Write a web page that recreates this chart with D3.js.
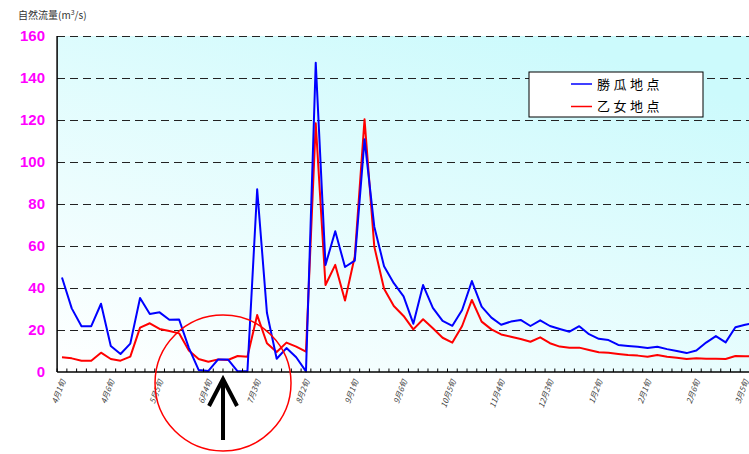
<!DOCTYPE html>
<html><head><meta charset="utf-8">
<script src="https://cdn.jsdelivr.net/npm/d3@7"></script>
<style>
html,body{margin:0;padding:0;background:#fff;overflow:hidden}
svg{display:block}
</style></head>
<body>
<svg id="chart" width="749" height="454"></svg>
<script>
const months = [4,5,6,7,8,9,10,11,12,1,2,3];
const categories = [];
months.forEach(m => { for (let j = 1; j <= 6; j++) categories.push(m + "月" + j + "旬"); });

const seriesNames = ["勝瓜地点", "乙女地点"];
const katsuriValues = [45,30.3,21.8,21.8,32.5,12.4,8.6,13.5,35.2,27.6,28.4,24.9,25,11.5,1,0.5,6,6,0.3,0.3,
  87,28.2,6.3,11.4,7,0.3,147.3,51,67,50,53,110.8,69.2,50.4,42.3,36,23,41.4,30.5,24.3,
  22,29.5,43.3,31.1,25.9,22.5,24,24.8,21.9,24.6,21.9,20.5,19.2,21.8,18,15.8,15.2,12.9,12.4,12,
  11.4,12,10.9,10,9,10.2,14,17.1,14.1,21.3,22.5,23.5];
const otomeValues = [7,6.5,5.4,5.4,9.2,6.2,5.4,7.3,21.1,23.2,20.5,19.5,18.4,10.2,6.2,4.9,6,5.7,7.6,7.3,
  27.1,13.7,9.5,14,12.1,9.7,118.4,41.4,51,34,55,120.3,59.7,39.6,31.4,26.7,20.3,25.1,20.8,16.3,
  14,21.9,34.3,24,20.3,17.9,16.8,15.7,14.4,16.5,13.7,12.1,11.6,11.6,10.5,9.4,9.2,8.6,8.1,7.8,
  7.3,8.1,7.3,6.8,6.2,6.5,6.3,6.3,6.2,7.6,7.5,7.5];
const yTicks = [0,20,40,60,80,100,120,140,160];
const xLabelEvery = 5;
const yTitle = "自然流量";

const svg = d3.select("#chart");
const pLeft = 57.1, pRight = 759.8, pTop = 36, pBottom = 372;

const x = d3.scaleBand().domain(categories).range([pLeft, pRight]).padding(0);
const cx = c => x(c) + x.bandwidth() / 2;
const y = d3.scaleLinear().domain([0, 160]).range([pBottom, pTop]);

const defs = svg.append("defs");
const grad = defs.append("linearGradient").attr("id", "bg")
  .attr("x1", 0).attr("y1", 1).attr("x2", 0.7).attr("y2", 0);
grad.append("stop").attr("offset", "0%").attr("stop-color", "#ffffff");
grad.append("stop").attr("offset", "100%").attr("stop-color", "#ccfafc");

svg.append("rect").attr("x", pLeft).attr("y", pTop)
  .attr("width", pRight - pLeft).attr("height", pBottom - pTop).attr("fill", "url(#bg)");

// gridlines
svg.append("g").selectAll("line").data(yTicks.filter(d => d > 0)).join("line")
  .attr("x1", pLeft).attr("x2", pRight)
  .attr("y1", d => y(d) + 0.5).attr("y2", d => y(d) + 0.5)
  .attr("stroke", "#222").attr("stroke-width", 1).attr("stroke-dasharray", "8,5")
  .attr("shape-rendering", "crispEdges");

// y labels
svg.append("g").selectAll("text").data(yTicks).join("text")
  .attr("x", 45).attr("y", d => y(d)).attr("dy", "0.36em")
  .attr("text-anchor", "end")
  .attr("font-family", "Liberation Sans, Arial, sans-serif")
  .attr("font-weight", "bold").attr("font-size", 15).attr("fill", "#ff00ff")
  .text(d => d);

// y title
const yt = svg.append("text").attr("x", 18).attr("y", 19)
  .attr("font-family", "Noto Sans CJK JP, sans-serif").attr("font-size", 10).attr("fill", "#333");
yt.append("tspan").text(yTitle + "(m");
yt.append("tspan").attr("font-size", 7).attr("dy", -4).text("3");
yt.append("tspan").attr("dy", 4).text("/s)");

// lines
const line = d3.line().x((d, i) => cx(categories[i])).y(d => y(d));
svg.append("path").datum(otomeValues).attr("d", line)
  .attr("fill", "none").attr("stroke", "#ff0000").attr("stroke-width", 2).attr("stroke-linejoin", "round");
svg.append("path").datum(katsuriValues).attr("d", line)
  .attr("fill", "none").attr("stroke", "#0000ff").attr("stroke-width", 2).attr("stroke-linejoin", "round");

// axes
svg.append("line").attr("x1", pLeft).attr("x2", pLeft).attr("y1", pTop).attr("y2", pBottom)
  .attr("stroke", "#000").attr("stroke-width", 1.5);
svg.append("line").attr("x1", pLeft).attr("x2", pRight).attr("y1", pBottom).attr("y2", pBottom)
  .attr("stroke", "#000").attr("stroke-width", 1.5);
svg.append("g").selectAll("line").data(categories).join("line")
  .attr("x1", d => x(d)).attr("x2", d => x(d))
  .attr("y1", pBottom).attr("y2", pBottom - 3.5)
  .attr("stroke", "#000").attr("stroke-width", 1);

// x labels
svg.append("g").selectAll("text")
  .data(categories.filter((d, i) => i % xLabelEvery === 0)).join("text")
  .attr("transform", d => `translate(${cx(d) + 1},${pBottom + 8}) rotate(-70)`)
  .attr("text-anchor", "end").attr("dy", "0.35em")
  .attr("font-family", "Noto Sans CJK JP, sans-serif").attr("font-size", 8)
  .attr("font-style", "italic").attr("fill", "#444")
  .text(d => d);

// legend
const lg = svg.append("g");
lg.append("rect").attr("x", 529).attr("y", 72).attr("width", 174).attr("height", 45)
  .attr("fill", "#fff").attr("stroke", "#000").attr("stroke-width", 1);
const legendColors = ["#0000ff", "#ff0000"];
seriesNames.forEach((n, i) => {
  const ly = 84 + i * 22.5;
  lg.append("line").attr("x1", 571).attr("x2", 592).attr("y1", ly).attr("y2", ly)
    .attr("stroke", legendColors[i]).attr("stroke-width", 1.5);
  lg.append("text").attr("x", 597).attr("y", ly).attr("dy", "0.38em")
    .attr("font-family", "Noto Sans CJK JP, sans-serif").attr("font-size", 13)
    .attr("letter-spacing", 3.5).attr("fill", "#000").text(n);
});

// annotation: circle and arrow
const ax = x(categories[17]);
svg.append("circle").attr("cx", ax).attr("cy", pBottom + 11).attr("r", 68)
  .attr("fill", "none").attr("stroke", "#ff0000").attr("stroke-width", 1.5);
svg.append("path")
  .attr("d", `M${ax},${pBottom + 68} L${ax},${pBottom + 7} M${ax - 14},${pBottom + 34} L${ax},${pBottom + 7} L${ax + 14},${pBottom + 34}`)
  .attr("fill", "none").attr("stroke", "#000").attr("stroke-width", 4).attr("stroke-linejoin", "miter");
</script>
</body></html>
